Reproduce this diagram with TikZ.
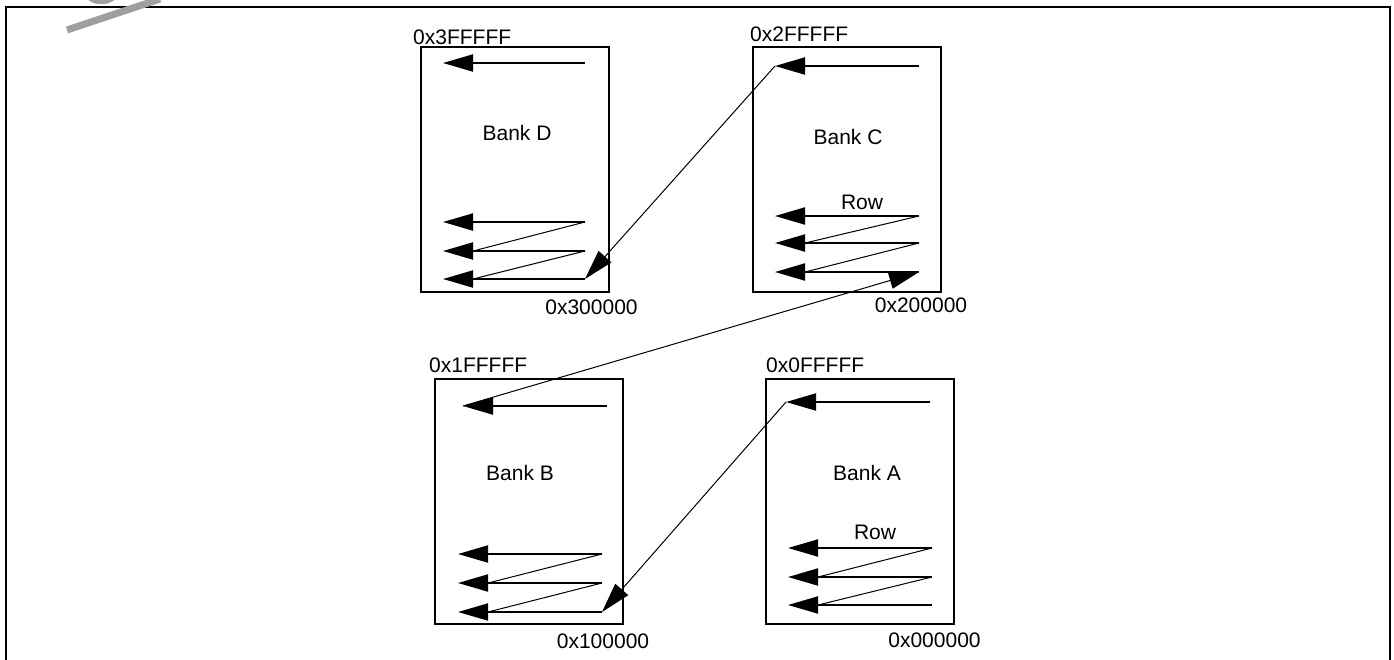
\documentclass[tikz,border=0pt]{standalone}
\usepackage{fontspec}
\setmainfont{Liberation Sans}
\usetikzlibrary{arrows.meta}

\tikzset{
  bankbox/.style={draw, line width=2pt, inner sep=0pt, minimum width=188pt, minimum height=245pt},
  rowarrow/.style={line width=2pt, -{Triangle[length=30pt,width=17pt]}},
  zigline/.style={line width=1pt},
  jumparrow/.style={line width=1pt, -{Triangle[length=30pt,width=17pt]}},
  txt/.style={inner sep=0pt, font=\fontsize{21}{25}\selectfont},
}

% rows of one bank: prefix, tip x, start x, y1, y2, y3
\newcommand{\bankrows}[6]{%
  \foreach \i/\y in {1/#4, 2/#5, 3/#6} {
    \coordinate (#1s\i) at (#3,\y);
    \coordinate (#1t\i) at (#2,\y);
    \coordinate (#1b\i) at (#2+30,\y);
    \draw[rowarrow] (#1s\i) -- (#1t\i);
  }
  \draw[zigline] (#1s1) -- (#1b2);
  \draw[zigline] (#1s2) -- (#1b3);
}

\begin{document}
\begin{tikzpicture}[x=1pt, y=-1pt, line cap=butt, line join=miter]

  \useasboundingbox (0,0) rectangle (1394,659);

  % ════ frame ════
  \draw[line width=2.2pt] (6,670) -- (6,7) -- (1390,7) -- (1390,670);

  % ════ four banks ════
  \node[bankbox] (bankD) at (515,169.5) {};
  \node[bankbox] (bankC) at (846.5,169.5) {};
  \node[bankbox] (bankB) at (528.5,501.5) {};
  \node[bankbox] (bankA) at (859.5,501.5) {};

  \node[txt] (nameD) at (517,133) {Bank D};
  \node[txt] (nameC) at (848,137) {Bank C};
  \node[txt] (nameB) at (520,473) {Bank B};
  \node[txt] (nameA) at (867,473) {Bank A};
  \node[txt] (rowC) at (862,202) {Row};
  \node[txt] (rowA) at (875,532) {Row};

  % ════ addresses ════
  \node[txt,anchor=west] (hiD) at (413,37) {0x3FFFFF};
  \node[txt,anchor=west] (hiC) at (750,34.5) {0x2FFFFF};
  \node[txt,anchor=west] (hiB) at (429,365) {0x1FFFFF};
  \node[txt,anchor=west] (hiA) at (766,365.5) {0x0FFFFF};
  \node[txt] (loD) at (591.5,307) {0x300000};
  \node[txt] (loC) at (921,305) {0x200000};
  \node[txt] (loB) at (603,641) {0x100000};
  \node[txt] (loA) at (934.5,640) {0x000000};

  % ════ top rows ════
  \coordinate (Dtop) at (443,63);   \coordinate (DtopS) at (585,63);
  \coordinate (Ctop) at (775,66);   \coordinate (CtopS) at (919,66);
  \coordinate (Btop) at (463,406);  \coordinate (BtopS) at (607,406);
  \coordinate (Atop) at (786,402);  \coordinate (AtopS) at (930,402);
  \foreach \b in {D,C,B,A}
    \draw[rowarrow] (\b topS) -- (\b top);

  % ════ bottom rows ════
  \bankrows{D}{443}{585}{222}{251}{279}
  \bankrows{C}{775}{919}{216}{243}{272}
  \bankrows{B}{458}{602}{554}{583}{612}
  \bankrows{A}{788}{932}{548}{577}{605}

  % ════ bank to bank ════
  \draw[jumparrow] (Atop) -- (Bs3);
  \draw[jumparrow] (Btop) -- (Cs3);
  \draw[jumparrow] (Ctop) -- (Ds3);

  % ════ grey mark ════
  \draw[gray!75, line width=7pt] (67,30) -- (160,-1);
  \draw[gray!75, line width=5pt] (90,-2) .. controls (96,3) and (106,3) .. (113,-2);
\end{tikzpicture}
\end{document}
